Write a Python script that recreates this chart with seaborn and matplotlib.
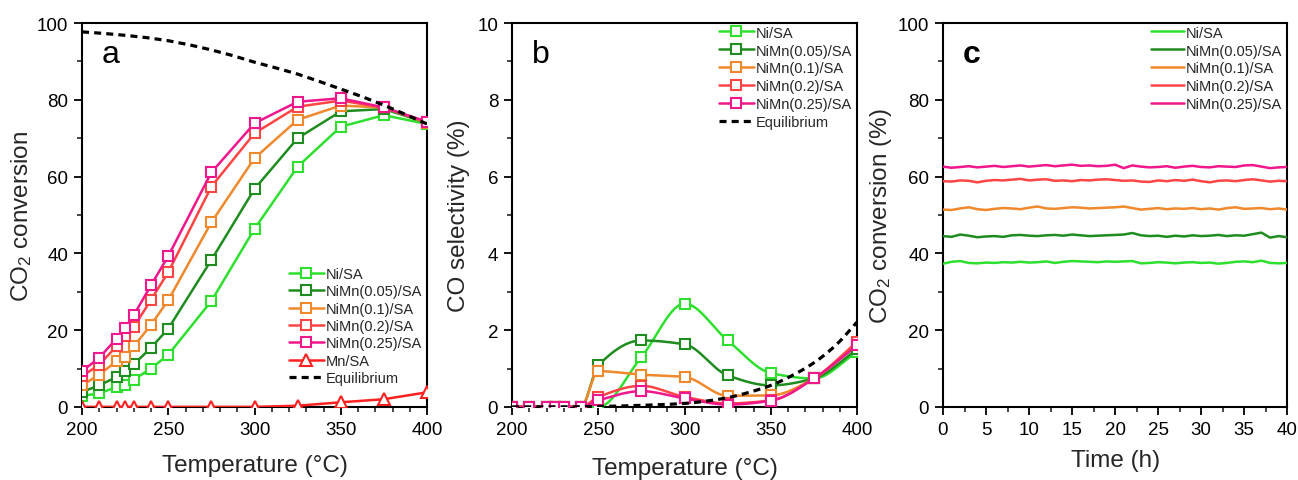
import numpy as np
import pandas as pd
import matplotlib
matplotlib.use("Agg")
import matplotlib.pyplot as plt
from matplotlib.lines import Line2D
from matplotlib.ticker import MultipleLocator
import seaborn as sns

# ---------------- data ----------------
temps = [200, 210, 220, 225, 230, 240, 250, 275, 300, 325, 350, 375, 400]
series_names = ["Ni/SA", "NiMn(0.05)/SA", "NiMn(0.1)/SA", "NiMn(0.2)/SA", "NiMn(0.25)/SA"]

# panel a: CO2 conversion
conv_ni = [2.9, 3.5, 5.2, 5.6, 7.1, 10.0, 13.6, 27.6, 46.4, 62.6, 73.0, 76.0, 73.7]
conv_005 = [3.9, 5.6, 7.8, 9.3, 11.1, 15.4, 20.4, 38.3, 56.8, 70.0, 77.0, 77.6, 74.0]
conv_01 = [5.6, 8.4, 11.9, 13.0, 15.8, 21.4, 27.8, 48.1, 64.8, 74.8, 78.5, 78.0, 74.0]
conv_02 = [8.0, 11.0, 15.8, 18.5, 20.8, 27.9, 35.1, 57.4, 71.3, 78.2, 79.8, 78.0, 74.2]
conv_025 = [9.3, 12.8, 17.8, 20.6, 23.9, 31.7, 39.3, 61.1, 73.9, 79.5, 80.4, 78.0, 74.3]
conv_mn = [0.0, 0.0, 0.0, 0.0, 0.0, 0.0, 0.0, 0.0, 0.0, 0.3, 1.2, 2.0, 3.8]
eq_a_t = [200, 212.5, 225, 237.5, 250, 262.5, 275, 287.5, 300, 312.5, 325, 337.5, 350, 362.5, 375, 387.5, 400]
eq_a_v = [97.7, 97.3, 96.8, 96.2, 95.4, 94.3, 93.0, 91.5, 89.8, 88.3, 86.7, 84.8, 82.8, 80.8, 78.6, 76.2, 73.7]

# panel b: CO selectivity
sel_ni = [0, 0, 0, 0, 0, 0, 0.0, 1.30, 2.69, 1.73, 0.88, 0.74, 1.43]
sel_005 = [0, 0, 0, 0, 0, 0, 1.08, 1.73, 1.63, 0.82, 0.56, 0.74, 1.50]
sel_01 = [0, 0, 0, 0, 0, 0, 0.93, 0.84, 0.78, 0.29, 0.30, 0.74, 1.65]
sel_02 = [0, 0, 0, 0, 0, 0, 0.26, 0.55, 0.26, 0.09, 0.17, 0.74, 1.69]
sel_025 = [0, 0, 0, 0, 0, 0, 0.17, 0.41, 0.22, 0.06, 0.16, 0.74, 1.60]
eq_b_t = [200, 225, 250, 275, 300, 312.5, 325, 337.5, 350, 362.5, 375, 387.5, 400]
eq_b_v = [0.0, 0.0, 0.01, 0.04, 0.09, 0.15, 0.24, 0.38, 0.56, 0.82, 1.15, 1.60, 2.21]

# panel c: stability test
hours = list(range(0, 41))
stab_ni = [37.3, 37.8, 38.0, 37.5, 37.4, 37.6, 37.5, 37.7, 37.6, 37.8,
           37.6, 37.7, 37.9, 37.5, 37.8, 38.0, 37.9, 37.8, 37.7, 37.9,
           37.8, 37.9, 38.0, 37.4, 37.5, 37.7, 37.6, 37.4, 37.6, 37.7,
           37.5, 37.6, 37.3, 37.5, 37.8, 37.9, 37.7, 38.1, 37.5, 37.4,
           37.5]
stab_005 = [44.5, 44.3, 44.9, 44.6, 44.2, 44.4, 44.5, 44.3, 44.7, 44.8,
            44.6, 44.5, 44.7, 44.8, 44.6, 44.9, 44.7, 44.5, 44.6, 44.7,
            44.8, 44.9, 45.3, 44.7, 44.5, 44.6, 44.3, 44.6, 44.4, 44.7,
            44.5, 44.6, 44.8, 44.5, 44.7, 44.6, 45.0, 45.4, 44.1, 44.5,
            44.2]
stab_01 = [51.4, 51.3, 51.7, 52.0, 51.5, 51.3, 51.6, 51.8, 51.7, 51.5,
           51.9, 52.2, 51.7, 51.6, 51.8, 52.0, 51.9, 51.7, 51.8, 51.9,
           52.0, 52.2, 51.8, 51.4, 51.6, 51.8, 51.5, 51.7, 51.6, 51.8,
           51.5, 51.7, 51.4, 51.8, 52.0, 51.6, 51.7, 51.8, 51.5, 51.7,
           51.4]
stab_02 = [58.8, 58.7, 59.0, 58.9, 58.5, 58.9, 59.1, 59.0, 59.2, 59.4,
           59.0, 59.2, 59.3, 58.9, 59.0, 58.8, 59.1, 59.0, 59.2, 59.3,
           59.1, 58.9, 59.0, 58.7, 58.6, 59.0, 58.8, 59.1, 58.9, 59.2,
           58.8, 58.5, 58.9, 59.0, 58.8, 59.1, 59.3, 59.0, 58.7, 58.9,
           58.8]
stab_025 = [62.6, 62.3, 62.5, 62.7, 62.4, 62.6, 62.8, 62.5, 62.7, 62.9,
            62.6, 62.8, 63.0, 62.7, 62.9, 63.1, 62.8, 62.9, 62.7, 62.8,
            63.1, 62.2, 62.9, 62.6, 62.4, 62.5, 62.7, 62.3, 62.6, 62.8,
            62.5, 62.4, 62.7, 62.6, 62.5, 62.9, 63.0, 62.6, 62.2, 62.4,
            62.5]

# ---------------- style ----------------
colors = ["#2ee02e", "#1e8c1e", "#f0882c", "#ff4444", "#f0168c"]
mn_color = "#ff2020"

sns.set_theme(style="ticks")
plt.rcParams["font.family"] = ["Liberation Sans", "DejaVu Sans"]
plt.rcParams["mathtext.fontset"] = "custom"
plt.rcParams["mathtext.rm"] = "Liberation Sans"
plt.rcParams["mathtext.default"] = "regular"

fig = plt.figure(figsize=(12.98, 4.81), dpi=100)
axa = fig.add_axes([0.0632, 0.152, 0.2658, 0.798])
axb = fig.add_axes([0.3945, 0.152, 0.2658, 0.798])
axc = fig.add_axes([0.7265, 0.152, 0.2652, 0.798])

LW = 1.8
MS = 7.5
MEW = 1.5
TICK_FS = 13.5
LABEL_FS = 17.5
LEG_FS = 10.5


def pchip(x, y, xs):
    x = np.asarray(x, float)
    y = np.asarray(y, float)
    n = len(x)
    h = np.diff(x)
    delta = np.diff(y) / h
    d = np.zeros(n)
    for k in range(1, n - 1):
        if delta[k - 1] * delta[k] <= 0:
            d[k] = 0.0
        else:
            w1 = 2 * h[k] + h[k - 1]
            w2 = h[k] + 2 * h[k - 1]
            d[k] = (w1 + w2) / (w1 / delta[k - 1] + w2 / delta[k])
    d[0] = delta[0]
    d[-1] = delta[-1]
    idx = np.clip(np.searchsorted(x, xs) - 1, 0, n - 2)
    out = np.empty(len(xs))
    for j, xv in enumerate(xs):
        i = idx[j]
        t = (xv - x[i]) / h[i]
        h00 = 2 * t ** 3 - 3 * t ** 2 + 1
        h10 = t ** 3 - 2 * t ** 2 + t
        h01 = -2 * t ** 3 + 3 * t ** 2
        h11 = t ** 3 - t ** 2
        out[j] = h00 * y[i] + h10 * h[i] * d[i] + h01 * y[i + 1] + h11 * h[i] * d[i + 1]
    return out


def style_axes(ax):
    for s in ax.spines.values():
        s.set_linewidth(1.5)
        s.set_color("black")
    ax.tick_params(which="major", direction="out", length=6, width=1.3, labelsize=TICK_FS,
                   colors="black", pad=4)
    ax.tick_params(which="minor", direction="out", length=3.5, width=1.2)
    ax.tick_params(top=False, right=False)


# ---------------- panel a ----------------
conv_data = [conv_ni, conv_005, conv_01, conv_02, conv_025]
for name, vals, col in zip(series_names, conv_data, colors):
    sns.lineplot(x=temps, y=vals, ax=axa, color=col, lw=LW, marker="s", ms=MS,
                 mfc="white", mec=col, mew=MEW, label=name, zorder=3)
sns.lineplot(x=temps, y=conv_mn, ax=axa, color=mn_color, lw=LW, marker="^", ms=MS + 1.5,
             mfc="white", mec=mn_color, mew=MEW, label="Mn/SA", zorder=3)
sns.lineplot(x=eq_a_t, y=eq_a_v, ax=axa, color="black", lw=2.3, label="Equilibrium", zorder=4)
axa.lines[-1].set_dashes((2.2, 1.6))
axa.set_xlim(200, 400)
axa.set_ylim(0, 100)
axa.xaxis.set_major_locator(MultipleLocator(50))
axa.xaxis.set_minor_locator(MultipleLocator(10))
axa.yaxis.set_major_locator(MultipleLocator(20))
axa.yaxis.set_minor_locator(MultipleLocator(10))
axa.set_xlabel("Temperature (°C)", fontsize=LABEL_FS, labelpad=12)
axa.set_ylabel("CO$_2$ conversion", fontsize=LABEL_FS, labelpad=2)
style_axes(axa)
axa.legend(loc="lower right", bbox_to_anchor=(1.015, 0.03), frameon=False, fontsize=LEG_FS,
           handlelength=2.4, handletextpad=0.12, labelspacing=0.23, borderpad=0.2)
axa.text(0.058, 0.898, "a", transform=axa.transAxes, fontsize=23, color="black")

# ---------------- panel b ----------------
sel_data = [sel_ni, sel_005, sel_01, sel_02, sel_025]
xs = np.linspace(200, 400, 401)
handles = []
for name, vals, col in zip(series_names, sel_data, colors):
    ys = pchip(temps, vals, xs)
    sns.lineplot(x=xs, y=ys, ax=axb, color=col, lw=LW, zorder=3)
    axb.plot(temps, vals, ls="none", marker="s", ms=MS, mfc="white", mec=col, mew=MEW, zorder=4)
    handles.append(Line2D([], [], color=col, lw=LW, marker="s", ms=MS, mfc="white",
                          mec=col, mew=MEW, label=name))
eq_xs = np.linspace(200, 400, 201)
eq_ys = pchip(eq_b_t, eq_b_v, eq_xs)
sns.lineplot(x=eq_xs, y=eq_ys, ax=axb, color="black", lw=2.3, zorder=5)
axb.lines[-1].set_dashes((2.2, 1.6))
handles.append(Line2D([], [], color="black", lw=2.3, ls=(0, (2.2, 1.6)), label="Equilibrium"))
axb.set_xlim(200, 400)
axb.set_ylim(0, 10)
axb.xaxis.set_major_locator(MultipleLocator(50))
axb.xaxis.set_minor_locator(MultipleLocator(10))
axb.yaxis.set_major_locator(MultipleLocator(2))
axb.yaxis.set_minor_locator(MultipleLocator(1))
axb.set_xlabel("Temperature (°C)", fontsize=LABEL_FS, labelpad=14)
axb.set_ylabel("CO selectivity (%)", fontsize=LABEL_FS, labelpad=5)
style_axes(axb)
axb.legend(handles=handles, loc="upper right", bbox_to_anchor=(1.015, 1.02), frameon=False,
           fontsize=LEG_FS, handlelength=2.4, handletextpad=0.12, labelspacing=0.27, borderpad=0.2)
axb.text(0.058, 0.898, "b", transform=axb.transAxes, fontsize=23, color="black")

# ---------------- panel c ----------------
stab_data = [stab_ni, stab_005, stab_01, stab_02, stab_025]
for name, vals, col in zip(series_names, stab_data, colors):
    sns.lineplot(x=hours, y=vals, ax=axc, color=col, lw=LW, label=name, zorder=3)
axc.set_xlim(0, 40)
axc.set_ylim(0, 100)
axc.xaxis.set_major_locator(MultipleLocator(5))
axc.xaxis.set_minor_locator(MultipleLocator(2.5))
axc.yaxis.set_major_locator(MultipleLocator(20))
axc.yaxis.set_minor_locator(MultipleLocator(10))
axc.set_xlabel("Time (h)", fontsize=LABEL_FS, labelpad=8)
axc.set_ylabel("CO$_2$ conversion (%)", fontsize=LABEL_FS, labelpad=3)
style_axes(axc)
axc.legend(loc="upper right", bbox_to_anchor=(1.015, 1.02), frameon=False, fontsize=LEG_FS,
           handlelength=2.3, handletextpad=0.12, labelspacing=0.27, borderpad=0.2)
axc.text(0.058, 0.898, "c", transform=axc.transAxes, fontsize=23, fontweight="bold", color="black")

fig.savefig("out.png", dpi=100)
